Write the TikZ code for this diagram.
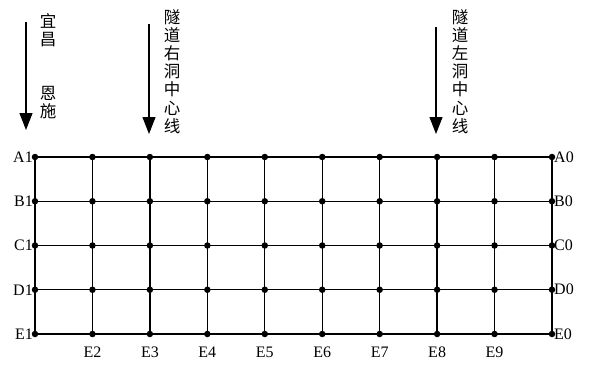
\documentclass[tikz,border=0pt]{standalone}
\usepackage{fontspec}
\setmainfont{Liberation Serif}
\newfontfamily\cjk{Noto Sans CJK SC}
\usetikzlibrary{arrows.meta}
\begin{document}
\begin{tikzpicture}[x=1pt,y=-1pt,
  gridline/.style={line width=1.4pt,black},
  dot/.style={circle,fill=black,inner sep=0pt,minimum size=6.5pt},
  lbl/.style={font=\fontsize{16}{16}\selectfont,inner sep=0pt},
  cn/.style={font=\cjk\fontsize{16.5}{18.2}\selectfont,align=center,inner sep=0pt,anchor=north},
  dirarrow/.style={line width=1.1pt,-{Triangle[length=17pt,width=13pt]}}]
\useasboundingbox (0,0) rectangle (593,364);
% grid points
\foreach \i in {0,...,9}{
  \foreach \j in {0,...,4}{
    \coordinate (p\i\j) at ({35+\i*57.444},{157+\j*44.25});
  }
}
% horizontal lines
\foreach \j in {0,...,4}{\draw[gridline] (p0\j) -- (p9\j);}
% vertical lines
\foreach \i in {0,...,9}{\draw[gridline] (p\i0) -- (p\i4);}
% dots
\foreach \i in {0,...,9}{\foreach \j in {0,...,4}{\node[dot] (d\i\j) at (p\i\j) {};}}
% left labels
\foreach \j/\t in {0/A1,1/B1,2/C1,3/D1,4/E1}{
  \node[lbl,anchor=east] (l\j) at ([xshift=-2pt]p0\j) {\t};
}
% right labels
\foreach \j/\t in {0/A0,1/B0,2/C0,3/D0,4/E0}{
  \node[lbl,anchor=west] (r\j) at ([xshift=2pt]p9\j) {\t};
}
% bottom labels
\foreach \i/\t in {1/E2,2/E3,3/E4,4/E5,5/E6,6/E7,7/E8,8/E9}{
  \node[lbl,anchor=north] (b\i) at ([yshift=-12.5pt]p\i4) {\t};
}
% arrows
\coordinate (a1s) at (26,22);
\coordinate (a1e) at (26,130);
\coordinate (a2s) at (149,24);
\coordinate (a2e) at (149,134);
\coordinate (a3s) at (436,27);
\coordinate (a3e) at (436,134);
\draw[dirarrow] (a1s) -- (a1e);
\draw[dirarrow] (a2s) -- (a2e);
\draw[dirarrow] (a3s) -- (a3e);
% texts
\node[cn] (t1) at (48,13) {宜\\昌};
\node[cn] (t2) at (48,86) {恩\\施};
\node[cn] (t3) at (172,9) {隧\\道\\右\\洞\\中\\心\\线};
\node[cn] (t4) at (460,9) {隧\\道\\左\\洞\\中\\心\\线};
\end{tikzpicture}
\end{document}
